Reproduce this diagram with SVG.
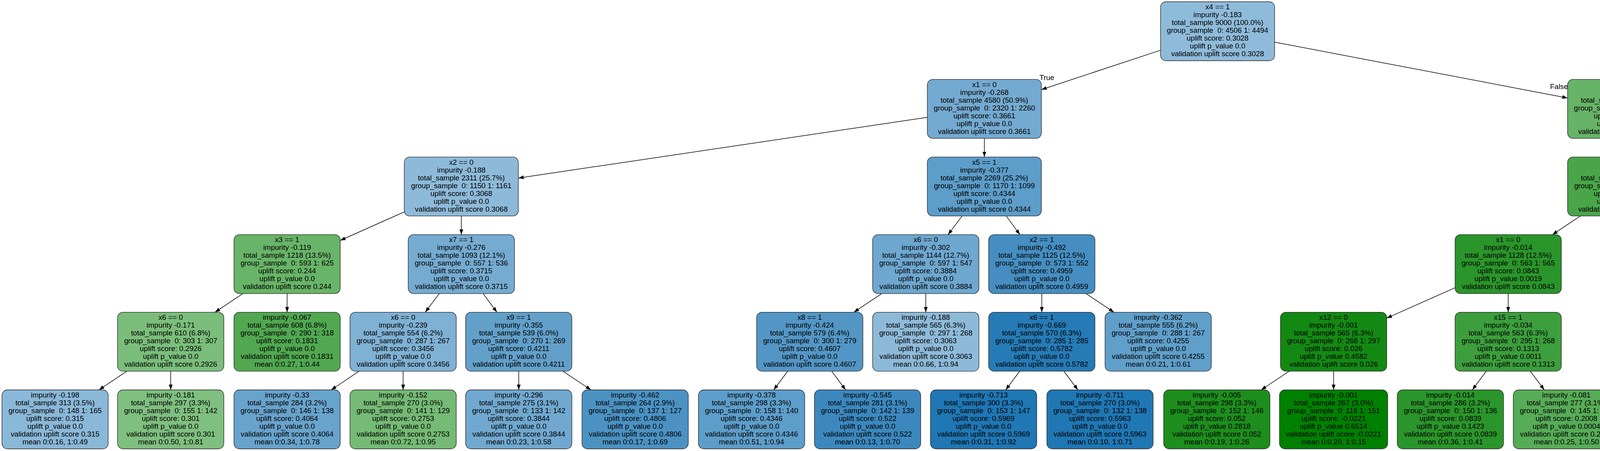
<svg xmlns="http://www.w3.org/2000/svg" width="6531" height="1155" viewBox="0 0 6531 1155">
<defs>
<marker id="ah" markerUnits="userSpaceOnUse" markerWidth="15" markerHeight="11" refX="13.5" refY="4.8" orient="auto"><path d="M0,0 L13.5,4.8 L0,9.6 z" fill="#000"/></marker>
</defs>
<style>
.n rect{stroke:#222;stroke-width:1.33}
.n text,.e text{font-family:"Liberation Sans",Arial,Helvetica,sans-serif;font-size:18.75px;text-anchor:middle;fill:#000}
.e line{stroke:#000;stroke-width:1.5;marker-end:url(#ah)}
</style>
<rect width="6531" height="1155" fill="#fff"/>
<g id="edges" class="e">
<line x1="2971" y1="128.6" x2="2666" y2="229.5"/>
<line x1="3263" y1="107.9" x2="4013" y2="250.9"/>
<text x="2680" y="205">True</text>
<text x="3991" y="228">False</text>
<line x1="2374" y1="300.5" x2="1327" y2="455.9"/>
<line x1="2520" y1="354.3" x2="2520" y2="402.1"/>
<line x1="4159" y1="354.3" x2="4159" y2="402.1"/>
<line x1="4305" y1="303.2" x2="5202" y2="453.2"/>
<line x1="1035" y1="542.6" x2="871" y2="615.8"/>
<line x1="1181" y1="553.1" x2="1181" y2="600.9"/>
<line x1="2463" y1="553.1" x2="2427" y2="600.9"/>
<line x1="2576" y1="553.1" x2="2611" y2="600.9"/>
<line x1="4045.8" y1="553.1" x2="3974.2" y2="600.9"/>
<line x1="4215.6" y1="553.1" x2="4251.4" y2="600.9"/>
<line x1="5348" y1="553.1" x2="5348" y2="600.9"/>
<line x1="5494" y1="516.7" x2="5955" y2="640"/>
<line x1="621.8" y1="751.9" x2="550.2" y2="799.7"/>
<line x1="735" y1="751.9" x2="735" y2="799.7"/>
<line x1="1124.4" y1="751.9" x2="1088.6" y2="799.7"/>
<line x1="1236.8" y1="751.9" x2="1272.2" y2="799.7"/>
<line x1="2257.2" y1="751.9" x2="2185.8" y2="799.7"/>
<line x1="2370" y1="751.9" x2="2370" y2="799.7"/>
<line x1="2667" y1="751.9" x2="2667" y2="799.7"/>
<line x1="2780.2" y1="751.9" x2="2851.8" y2="799.7"/>
<line x1="3725" y1="736.9" x2="3550" y2="814.7"/>
<line x1="3861" y1="751.9" x2="3861" y2="799.7"/>
<line x1="4308" y1="751.9" x2="4308" y2="799.7"/>
<line x1="4420.8" y1="751.9" x2="4492.2" y2="799.7"/>
<line x1="5291.8" y1="751.9" x2="5256.2" y2="799.7"/>
<line x1="5404.6" y1="751.9" x2="5440.4" y2="799.7"/>
<line x1="6091" y1="751.9" x2="6091" y2="799.7"/>
<line x1="6204.2" y1="751.9" x2="6275.8" y2="799.7"/>
<line x1="324.6" y1="950.7" x2="253.4" y2="998.5"/>
<line x1="437" y1="950.7" x2="437" y2="998.5"/>
<line x1="919.2" y1="950.7" x2="847.8" y2="998.5"/>
<line x1="1032" y1="950.7" x2="1032" y2="998.5"/>
<line x1="1328" y1="950.7" x2="1328" y2="998.5"/>
<line x1="1441.2" y1="950.7" x2="1512.8" y2="998.5"/>
<line x1="2016.4" y1="950.7" x2="1980.6" y2="998.5"/>
<line x1="2129.2" y1="950.7" x2="2164.8" y2="998.5"/>
<line x1="2610.4" y1="950.7" x2="2574.6" y2="998.5"/>
<line x1="2723.6" y1="950.7" x2="2759.4" y2="998.5"/>
<line x1="3300.4" y1="950.7" x2="3228.6" y2="998.5"/>
<line x1="3414" y1="950.7" x2="3414" y2="998.5"/>
<line x1="3804.8" y1="950.7" x2="3769.2" y2="998.5"/>
<line x1="3917.6" y1="950.7" x2="3953.4" y2="998.5"/>
<line x1="4308" y1="950.7" x2="4308" y2="998.5"/>
<line x1="4420.8" y1="950.7" x2="4492.2" y2="998.5"/>
<line x1="5087.2" y1="950.7" x2="5015.8" y2="998.5"/>
<line x1="5200" y1="950.7" x2="5200" y2="998.5"/>
<line x1="5497" y1="950.7" x2="5497" y2="998.5"/>
<line x1="5610.2" y1="950.7" x2="5681.8" y2="998.5"/>
<line x1="6091" y1="950.7" x2="6091" y2="998.5"/>
<line x1="6204.2" y1="950.7" x2="6275.8" y2="998.5"/>
</g>
<g id="n0" class="n" transform="translate(3117,4.5)"><rect x="-146" width="292" height="151" rx="14" fill="#8fbbda"/><text><tspan x="0" y="19.5">x4 == 1</tspan><tspan x="0" y="39.5">impurity -0.183</tspan><tspan x="0" y="59.5">total_sample 9000 (100.0%)</tspan><tspan x="0" y="79.5">group_sample&#160; 0: 4506 1: 4494</tspan><tspan x="0" y="99.5">uplift score: 0.3028</tspan><tspan x="0" y="119.5">uplift p_value 0.0</tspan><tspan x="0" y="139.5">validation uplift score 0.3028</tspan></text></g>
<g id="n1" class="n" transform="translate(2520,203.3)"><rect x="-146" width="292" height="151" rx="14" fill="#74aad1"/><text><tspan x="0" y="19.5">x1 == 0</tspan><tspan x="0" y="39.5">impurity -0.268</tspan><tspan x="0" y="59.5">total_sample 4580 (50.9%)</tspan><tspan x="0" y="79.5">group_sample&#160; 0: 2320 1: 2260</tspan><tspan x="0" y="99.5">uplift score: 0.3661</tspan><tspan x="0" y="119.5">uplift p_value 0.0</tspan><tspan x="0" y="139.5">validation uplift score 0.3661</tspan></text></g>
<g id="n2" class="n" transform="translate(4159,203.3)"><rect x="-146" width="292" height="151" rx="14" fill="#67b367"/><text><tspan x="0" y="19.5">x3 == 0</tspan><tspan x="0" y="39.5">impurity -0.115</tspan><tspan x="0" y="59.5">total_sample 4420 (49.1%)</tspan><tspan x="0" y="79.5">group_sample&#160; 0: 2186 1: 2234</tspan><tspan x="0" y="99.5">uplift score: 0.2399</tspan><tspan x="0" y="119.5">uplift p_value 0.0</tspan><tspan x="0" y="139.5">validation uplift score 0.2399</tspan></text></g>
<g id="n3" class="n" transform="translate(1181,402.1)"><rect x="-146" width="292" height="151" rx="14" fill="#8ebad9"/><text><tspan x="0" y="19.5">x2 == 0</tspan><tspan x="0" y="39.5">impurity -0.188</tspan><tspan x="0" y="59.5">total_sample 2311 (25.7%)</tspan><tspan x="0" y="79.5">group_sample&#160; 0: 1150 1: 1161</tspan><tspan x="0" y="99.5">uplift score: 0.3068</tspan><tspan x="0" y="119.5">uplift p_value 0.0</tspan><tspan x="0" y="139.5">validation uplift score 0.3068</tspan></text></g>
<g id="n4" class="n" transform="translate(2520,402.1)"><rect x="-146" width="292" height="151" rx="14" fill="#5d9dc9"/><text><tspan x="0" y="19.5">x5 == 1</tspan><tspan x="0" y="39.5">impurity -0.377</tspan><tspan x="0" y="59.5">total_sample 2269 (25.2%)</tspan><tspan x="0" y="79.5">group_sample&#160; 0: 1170 1: 1099</tspan><tspan x="0" y="99.5">uplift score: 0.4344</tspan><tspan x="0" y="119.5">uplift p_value 0.0</tspan><tspan x="0" y="139.5">validation uplift score 0.4344</tspan></text></g>
<g id="n5" class="n" transform="translate(4159,402.1)"><rect x="-146" width="292" height="151" rx="14" fill="#4aa54a"/><text><tspan x="0" y="19.5">x2 == 0</tspan><tspan x="0" y="39.5">impurity -0.055</tspan><tspan x="0" y="59.5">total_sample 2236 (24.8%)</tspan><tspan x="0" y="79.5">group_sample&#160; 0: 1088 1: 1148</tspan><tspan x="0" y="99.5">uplift score: 0.1657</tspan><tspan x="0" y="119.5">uplift p_value 0.0</tspan><tspan x="0" y="139.5">validation uplift score 0.1657</tspan></text></g>
<g id="n6" class="n" transform="translate(5348,402.1)"><rect x="-146" width="292" height="151" rx="14" fill="#8bb8d8"/><text><tspan x="0" y="19.5">x8 == 1</tspan><tspan x="0" y="39.5">impurity -0.198</tspan><tspan x="0" y="59.5">total_sample 2184 (24.3%)</tspan><tspan x="0" y="79.5">group_sample&#160; 0: 1098 1: 1086</tspan><tspan x="0" y="99.5">uplift score: 0.3144</tspan><tspan x="0" y="119.5">uplift p_value 0.0</tspan><tspan x="0" y="139.5">validation uplift score 0.3144</tspan></text></g>
<g id="n7" class="n" transform="translate(735,600.9)"><rect x="-136" width="272" height="151" rx="14" fill="#68b468"/><text><tspan x="0" y="19.5">x3 == 1</tspan><tspan x="0" y="39.5">impurity -0.119</tspan><tspan x="0" y="59.5">total_sample 1218 (13.5%)</tspan><tspan x="0" y="79.5">group_sample&#160; 0: 593 1: 625</tspan><tspan x="0" y="99.5">uplift score: 0.244</tspan><tspan x="0" y="119.5">uplift p_value 0.0</tspan><tspan x="0" y="139.5">validation uplift score 0.244</tspan></text></g>
<g id="n8" class="n" transform="translate(1181,600.9)"><rect x="-136" width="272" height="151" rx="14" fill="#75abd1"/><text><tspan x="0" y="19.5">x7 == 1</tspan><tspan x="0" y="39.5">impurity -0.276</tspan><tspan x="0" y="59.5">total_sample 1093 (12.1%)</tspan><tspan x="0" y="79.5">group_sample&#160; 0: 557 1: 536</tspan><tspan x="0" y="99.5">uplift score: 0.3715</tspan><tspan x="0" y="119.5">uplift p_value 0.0</tspan><tspan x="0" y="139.5">validation uplift score 0.3715</tspan></text></g>
<g id="n9" class="n" transform="translate(2370,600.9)"><rect x="-136" width="272" height="151" rx="14" fill="#6ea7cf"/><text><tspan x="0" y="19.5">x6 == 0</tspan><tspan x="0" y="39.5">impurity -0.302</tspan><tspan x="0" y="59.5">total_sample 1144 (12.7%)</tspan><tspan x="0" y="79.5">group_sample&#160; 0: 597 1: 547</tspan><tspan x="0" y="99.5">uplift score: 0.3884</tspan><tspan x="0" y="119.5">uplift p_value 0.0</tspan><tspan x="0" y="139.5">validation uplift score 0.3884</tspan></text></g>
<g id="n10" class="n" transform="translate(2667,600.9)"><rect x="-136" width="272" height="151" rx="14" fill="#468ec1"/><text><tspan x="0" y="19.5">x2 == 1</tspan><tspan x="0" y="39.5">impurity -0.492</tspan><tspan x="0" y="59.5">total_sample 1125 (12.5%)</tspan><tspan x="0" y="79.5">group_sample&#160; 0: 573 1: 552</tspan><tspan x="0" y="99.5">uplift score: 0.4959</tspan><tspan x="0" y="119.5">uplift p_value 0.0</tspan><tspan x="0" y="139.5">validation uplift score 0.4959</tspan></text></g>
<g id="n11" class="n" transform="translate(3861,600.9)"><rect x="-136" width="272" height="151" rx="14" fill="#2a952a"/><text><tspan x="0" y="19.5">x1 == 0</tspan><tspan x="0" y="39.5">impurity -0.014</tspan><tspan x="0" y="59.5">total_sample 1128 (12.5%)</tspan><tspan x="0" y="79.5">group_sample&#160; 0: 563 1: 565</tspan><tspan x="0" y="99.5">uplift score: 0.0843</tspan><tspan x="0" y="119.5">uplift p_value 0.0019</tspan><tspan x="0" y="139.5">validation uplift score 0.0843</tspan></text></g>
<g id="n12" class="n" transform="translate(4308,600.9)"><rect x="-136" width="272" height="151" rx="14" fill="#64b264"/><text><tspan x="0" y="19.5">x17 == 1</tspan><tspan x="0" y="39.5">impurity -0.109</tspan><tspan x="0" y="59.5">total_sample 1108 (12.3%)</tspan><tspan x="0" y="79.5">group_sample&#160; 0: 525 1: 583</tspan><tspan x="0" y="99.5">uplift score: 0.233</tspan><tspan x="0" y="119.5">uplift p_value 0.0</tspan><tspan x="0" y="139.5">validation uplift score 0.233</tspan></text></g>
<g id="n13" class="n" transform="translate(5348,600.9)"><rect x="-136" width="272" height="151" rx="14" fill="#8bb9d8"/><text><tspan x="0" y="19.5">x7 == 1</tspan><tspan x="0" y="39.5">impurity -0.195</tspan><tspan x="0" y="59.5">total_sample 1096 (12.2%)</tspan><tspan x="0" y="79.5">group_sample&#160; 0: 558 1: 538</tspan><tspan x="0" y="99.5">uplift score: 0.3123</tspan><tspan x="0" y="119.5">uplift p_value 0.0</tspan><tspan x="0" y="139.5">validation uplift score 0.3123</tspan></text></g>
<g id="n14" class="n" transform="translate(6091,600.9)"><rect x="-136" width="272" height="151" rx="14" fill="#83b4d6"/><text><tspan x="0" y="19.5">x2 == 1</tspan><tspan x="0" y="39.5">impurity -0.222</tspan><tspan x="0" y="59.5">total_sample 1088 (12.1%)</tspan><tspan x="0" y="79.5">group_sample&#160; 0: 540 1: 548</tspan><tspan x="0" y="99.5">uplift score: 0.333</tspan><tspan x="0" y="119.5">uplift p_value 0.0</tspan><tspan x="0" y="139.5">validation uplift score 0.333</tspan></text></g>
<g id="n15" class="n" transform="translate(437,799.7)"><rect x="-136" width="272" height="151" rx="14" fill="#7bbe7b"/><text><tspan x="0" y="19.5">x6 == 0</tspan><tspan x="0" y="39.5">impurity -0.171</tspan><tspan x="0" y="59.5">total_sample 610 (6.8%)</tspan><tspan x="0" y="79.5">group_sample&#160; 0: 303 1: 307</tspan><tspan x="0" y="99.5">uplift score: 0.2926</tspan><tspan x="0" y="119.5">uplift p_value 0.0</tspan><tspan x="0" y="139.5">validation uplift score 0.2926</tspan></text></g>
<g id="n16" class="n" transform="translate(735,799.7)"><rect x="-136" width="272" height="151" rx="14" fill="#51a851"/><text><tspan x="0" y="19.5">impurity -0.067</tspan><tspan x="0" y="39.5">total_sample 608 (6.8%)</tspan><tspan x="0" y="59.5">group_sample&#160; 0: 290 1: 318</tspan><tspan x="0" y="79.5">uplift score: 0.1831</tspan><tspan x="0" y="99.5">uplift p_value 0.0</tspan><tspan x="0" y="119.5">validation uplift score 0.1831</tspan><tspan x="0" y="139.5">mean 0:0.27, 1:0.44</tspan></text></g>
<g id="n17" class="n" transform="translate(1032,799.7)"><rect x="-136" width="272" height="151" rx="14" fill="#7fb1d4"/><text><tspan x="0" y="19.5">x6 == 0</tspan><tspan x="0" y="39.5">impurity -0.239</tspan><tspan x="0" y="59.5">total_sample 554 (6.2%)</tspan><tspan x="0" y="79.5">group_sample&#160; 0: 287 1: 267</tspan><tspan x="0" y="99.5">uplift score: 0.3456</tspan><tspan x="0" y="119.5">uplift p_value 0.0</tspan><tspan x="0" y="139.5">validation uplift score 0.3456</tspan></text></g>
<g id="n18" class="n" transform="translate(1328,799.7)"><rect x="-136" width="272" height="151" rx="14" fill="#62a0ca"/><text><tspan x="0" y="19.5">x9 == 1</tspan><tspan x="0" y="39.5">impurity -0.355</tspan><tspan x="0" y="59.5">total_sample 539 (6.0%)</tspan><tspan x="0" y="79.5">group_sample&#160; 0: 270 1: 269</tspan><tspan x="0" y="99.5">uplift score: 0.4211</tspan><tspan x="0" y="119.5">uplift p_value 0.0</tspan><tspan x="0" y="139.5">validation uplift score 0.4211</tspan></text></g>
<g id="n19" class="n" transform="translate(2073,799.7)"><rect x="-136" width="272" height="151" rx="14" fill="#5396c5"/><text><tspan x="0" y="19.5">x8 == 1</tspan><tspan x="0" y="39.5">impurity -0.424</tspan><tspan x="0" y="59.5">total_sample 579 (6.4%)</tspan><tspan x="0" y="79.5">group_sample&#160; 0: 300 1: 279</tspan><tspan x="0" y="99.5">uplift score: 0.4607</tspan><tspan x="0" y="119.5">uplift p_value 0.0</tspan><tspan x="0" y="139.5">validation uplift score 0.4607</tspan></text></g>
<g id="n20" class="n" transform="translate(2370,799.7)"><rect x="-136" width="272" height="151" rx="14" fill="#8ebad9"/><text><tspan x="0" y="19.5">impurity -0.188</tspan><tspan x="0" y="39.5">total_sample 565 (6.3%)</tspan><tspan x="0" y="59.5">group_sample&#160; 0: 297 1: 268</tspan><tspan x="0" y="79.5">uplift score: 0.3063</tspan><tspan x="0" y="99.5">uplift p_value 0.0</tspan><tspan x="0" y="119.5">validation uplift score 0.3063</tspan><tspan x="0" y="139.5">mean 0:0.66, 1:0.94</tspan></text></g>
<g id="n21" class="n" transform="translate(2667,799.7)"><rect x="-136" width="272" height="151" rx="14" fill="#267bb6"/><text><tspan x="0" y="19.5">x6 == 1</tspan><tspan x="0" y="39.5">impurity -0.669</tspan><tspan x="0" y="59.5">total_sample 570 (6.3%)</tspan><tspan x="0" y="79.5">group_sample&#160; 0: 285 1: 285</tspan><tspan x="0" y="99.5">uplift score: 0.5782</tspan><tspan x="0" y="119.5">uplift p_value 0.0</tspan><tspan x="0" y="139.5">validation uplift score 0.5782</tspan></text></g>
<g id="n22" class="n" transform="translate(2965,799.7)"><rect x="-136" width="272" height="151" rx="14" fill="#609fca"/><text><tspan x="0" y="19.5">impurity -0.362</tspan><tspan x="0" y="39.5">total_sample 555 (6.2%)</tspan><tspan x="0" y="59.5">group_sample&#160; 0: 288 1: 267</tspan><tspan x="0" y="79.5">uplift score: 0.4255</tspan><tspan x="0" y="99.5">uplift p_value 0.0</tspan><tspan x="0" y="119.5">validation uplift score 0.4255</tspan><tspan x="0" y="139.5">mean 0:0.21, 1:0.61</tspan></text></g>
<g id="n23" class="n" transform="translate(3414,799.7)"><rect x="-136" width="272" height="151" rx="14" fill="#138913"/><text><tspan x="0" y="19.5">x12 == 0</tspan><tspan x="0" y="39.5">impurity -0.001</tspan><tspan x="0" y="59.5">total_sample 565 (6.3%)</tspan><tspan x="0" y="79.5">group_sample&#160; 0: 268 1: 297</tspan><tspan x="0" y="99.5">uplift score: 0.026</tspan><tspan x="0" y="119.5">uplift p_value 0.4582</tspan><tspan x="0" y="139.5">validation uplift score 0.026</tspan></text></g>
<g id="n24" class="n" transform="translate(3861,799.7)"><rect x="-136" width="272" height="151" rx="14" fill="#3c9e3c"/><text><tspan x="0" y="19.5">x15 == 1</tspan><tspan x="0" y="39.5">impurity -0.034</tspan><tspan x="0" y="59.5">total_sample 563 (6.3%)</tspan><tspan x="0" y="79.5">group_sample&#160; 0: 295 1: 268</tspan><tspan x="0" y="99.5">uplift score: 0.1313</tspan><tspan x="0" y="119.5">uplift p_value 0.0011</tspan><tspan x="0" y="139.5">validation uplift score 0.1313</tspan></text></g>
<g id="n25" class="n" transform="translate(4308,799.7)"><rect x="-136" width="272" height="151" rx="14" fill="#79bc79"/><text><tspan x="0" y="19.5">x1 == 1</tspan><tspan x="0" y="39.5">impurity -0.165</tspan><tspan x="0" y="59.5">total_sample 554 (6.2%)</tspan><tspan x="0" y="79.5">group_sample&#160; 0: 270 1: 284</tspan><tspan x="0" y="99.5">uplift score: 0.2875</tspan><tspan x="0" y="119.5">uplift p_value 0.0</tspan><tspan x="0" y="139.5">validation uplift score 0.2875</tspan></text></g>
<g id="n26" class="n" transform="translate(4605,799.7)"><rect x="-136" width="272" height="151" rx="14" fill="#56ab56"/><text><tspan x="0" y="19.5">impurity -0.077</tspan><tspan x="0" y="39.5">total_sample 554 (6.2%)</tspan><tspan x="0" y="59.5">group_sample&#160; 0: 255 1: 299</tspan><tspan x="0" y="79.5">uplift score: 0.1967</tspan><tspan x="0" y="99.5">uplift p_value 0.0</tspan><tspan x="0" y="119.5">validation uplift score 0.1967</tspan><tspan x="0" y="139.5">mean 0:0.29, 1:0.48</tspan></text></g>
<g id="n27" class="n" transform="translate(5200,799.7)"><rect x="-136" width="272" height="151" rx="14" fill="#6fb76f"/><text><tspan x="0" y="19.5">x5 == 1</tspan><tspan x="0" y="39.5">impurity -0.136</tspan><tspan x="0" y="59.5">total_sample 569 (6.3%)</tspan><tspan x="0" y="79.5">group_sample&#160; 0: 293 1: 276</tspan><tspan x="0" y="99.5">uplift score: 0.2606</tspan><tspan x="0" y="119.5">uplift p_value 0.0</tspan><tspan x="0" y="139.5">validation uplift score 0.2606</tspan></text></g>
<g id="n28" class="n" transform="translate(5497,799.7)"><rect x="-136" width="272" height="151" rx="14" fill="#75abd1"/><text><tspan x="0" y="19.5">x1 == 0</tspan><tspan x="0" y="39.5">impurity -0.275</tspan><tspan x="0" y="59.5">total_sample 527 (5.9%)</tspan><tspan x="0" y="79.5">group_sample&#160; 0: 265 1: 262</tspan><tspan x="0" y="99.5">uplift score: 0.3707</tspan><tspan x="0" y="119.5">uplift p_value 0.0</tspan><tspan x="0" y="139.5">validation uplift score 0.3707</tspan></text></g>
<g id="n29" class="n" transform="translate(6091,799.7)"><rect x="-136" width="272" height="151" rx="14" fill="#619fca"/><text><tspan x="0" y="19.5">x7 == 1</tspan><tspan x="0" y="39.5">impurity -0.36</tspan><tspan x="0" y="59.5">total_sample 554 (6.2%)</tspan><tspan x="0" y="79.5">group_sample&#160; 0: 264 1: 290</tspan><tspan x="0" y="99.5">uplift score: 0.4245</tspan><tspan x="0" y="119.5">uplift p_value 0.0</tspan><tspan x="0" y="139.5">validation uplift score 0.4245</tspan></text></g>
<g id="n30" class="n" transform="translate(6389,799.7)"><rect x="-136" width="272" height="151" rx="14" fill="#67b367"/><text><tspan x="0" y="19.5">impurity -0.115</tspan><tspan x="0" y="39.5">total_sample 534 (5.9%)</tspan><tspan x="0" y="59.5">group_sample&#160; 0: 276 1: 258</tspan><tspan x="0" y="79.5">uplift score: 0.2397</tspan><tspan x="0" y="99.5">uplift p_value 0.0</tspan><tspan x="0" y="119.5">validation uplift score 0.2397</tspan><tspan x="0" y="139.5">mean 0:0.19, 1:0.40</tspan></text></g>
<g id="n31" class="n" transform="translate(141,998.5)"><rect x="-136" width="272" height="151" rx="14" fill="#8ab8d8"/><text><tspan x="0" y="19.5">impurity -0.198</tspan><tspan x="0" y="39.5">total_sample 313 (3.5%)</tspan><tspan x="0" y="59.5">group_sample&#160; 0: 148 1: 165</tspan><tspan x="0" y="79.5">uplift score: 0.315</tspan><tspan x="0" y="99.5">uplift p_value 0.0</tspan><tspan x="0" y="119.5">validation uplift score 0.315</tspan><tspan x="0" y="139.5">mean 0:0.16, 1:0.49</tspan></text></g>
<g id="n32" class="n" transform="translate(437,998.5)"><rect x="-136" width="272" height="151" rx="14" fill="#7fbf7f"/><text><tspan x="0" y="19.5">impurity -0.181</tspan><tspan x="0" y="39.5">total_sample 297 (3.3%)</tspan><tspan x="0" y="59.5">group_sample&#160; 0: 155 1: 142</tspan><tspan x="0" y="79.5">uplift score: 0.301</tspan><tspan x="0" y="99.5">uplift p_value 0.0</tspan><tspan x="0" y="119.5">validation uplift score 0.301</tspan><tspan x="0" y="139.5">mean 0:0.50, 1:0.81</tspan></text></g>
<g id="n33" class="n" transform="translate(735,998.5)"><rect x="-136" width="272" height="151" rx="14" fill="#68a3cc"/><text><tspan x="0" y="19.5">impurity -0.33</tspan><tspan x="0" y="39.5">total_sample 284 (3.2%)</tspan><tspan x="0" y="59.5">group_sample&#160; 0: 146 1: 138</tspan><tspan x="0" y="79.5">uplift score: 0.4064</tspan><tspan x="0" y="99.5">uplift p_value 0.0</tspan><tspan x="0" y="119.5">validation uplift score 0.4064</tspan><tspan x="0" y="139.5">mean 0:0.34, 1:0.78</tspan></text></g>
<g id="n34" class="n" transform="translate(1032,998.5)"><rect x="-136" width="272" height="151" rx="14" fill="#75ba75"/><text><tspan x="0" y="19.5">impurity -0.152</tspan><tspan x="0" y="39.5">total_sample 270 (3.0%)</tspan><tspan x="0" y="59.5">group_sample&#160; 0: 141 1: 129</tspan><tspan x="0" y="79.5">uplift score: 0.2753</tspan><tspan x="0" y="99.5">uplift p_value 0.0</tspan><tspan x="0" y="119.5">validation uplift score 0.2753</tspan><tspan x="0" y="139.5">mean 0:0.72, 1:0.95</tspan></text></g>
<g id="n35" class="n" transform="translate(1328,998.5)"><rect x="-136" width="272" height="151" rx="14" fill="#70a8cf"/><text><tspan x="0" y="19.5">impurity -0.296</tspan><tspan x="0" y="39.5">total_sample 275 (3.1%)</tspan><tspan x="0" y="59.5">group_sample&#160; 0: 133 1: 142</tspan><tspan x="0" y="79.5">uplift score: 0.3844</tspan><tspan x="0" y="99.5">uplift p_value 0.0</tspan><tspan x="0" y="119.5">validation uplift score 0.3844</tspan><tspan x="0" y="139.5">mean 0:0.23, 1:0.58</tspan></text></g>
<g id="n36" class="n" transform="translate(1626,998.5)"><rect x="-136" width="272" height="151" rx="14" fill="#4b92c3"/><text><tspan x="0" y="19.5">impurity -0.462</tspan><tspan x="0" y="39.5">total_sample 264 (2.9%)</tspan><tspan x="0" y="59.5">group_sample&#160; 0: 137 1: 127</tspan><tspan x="0" y="79.5">uplift score: 0.4806</tspan><tspan x="0" y="99.5">uplift p_value 0.0</tspan><tspan x="0" y="119.5">validation uplift score 0.4806</tspan><tspan x="0" y="139.5">mean 0:0.17, 1:0.69</tspan></text></g>
<g id="n37" class="n" transform="translate(1924,998.5)"><rect x="-136" width="272" height="151" rx="14" fill="#5d9dc9"/><text><tspan x="0" y="19.5">impurity -0.378</tspan><tspan x="0" y="39.5">total_sample 298 (3.3%)</tspan><tspan x="0" y="59.5">group_sample&#160; 0: 158 1: 140</tspan><tspan x="0" y="79.5">uplift score: 0.4346</tspan><tspan x="0" y="99.5">uplift p_value 0.0</tspan><tspan x="0" y="119.5">validation uplift score 0.4346</tspan><tspan x="0" y="139.5">mean 0:0.51, 1:0.94</tspan></text></g>
<g id="n38" class="n" transform="translate(2221,998.5)"><rect x="-136" width="272" height="151" rx="14" fill="#3c88be"/><text><tspan x="0" y="19.5">impurity -0.545</tspan><tspan x="0" y="39.5">total_sample 281 (3.1%)</tspan><tspan x="0" y="59.5">group_sample&#160; 0: 142 1: 139</tspan><tspan x="0" y="79.5">uplift score: 0.522</tspan><tspan x="0" y="99.5">uplift p_value 0.0</tspan><tspan x="0" y="119.5">validation uplift score 0.522</tspan><tspan x="0" y="139.5">mean 0:0.13, 1:0.70</tspan></text></g>
<g id="n39" class="n" transform="translate(2518,998.5)"><rect x="-136" width="272" height="151" rx="14" fill="#1f77b4"/><text><tspan x="0" y="19.5">impurity -0.713</tspan><tspan x="0" y="39.5">total_sample 300 (3.3%)</tspan><tspan x="0" y="59.5">group_sample&#160; 0: 153 1: 147</tspan><tspan x="0" y="79.5">uplift score: 0.5969</tspan><tspan x="0" y="99.5">uplift p_value 0.0</tspan><tspan x="0" y="119.5">validation uplift score 0.5969</tspan><tspan x="0" y="139.5">mean 0:0.31, 1:0.92</tspan></text></g>
<g id="n40" class="n" transform="translate(2816,998.5)"><rect x="-136" width="272" height="151" rx="14" fill="#1f77b4"/><text><tspan x="0" y="19.5">impurity -0.711</tspan><tspan x="0" y="39.5">total_sample 270 (3.0%)</tspan><tspan x="0" y="59.5">group_sample&#160; 0: 132 1: 138</tspan><tspan x="0" y="79.5">uplift score: 0.5963</tspan><tspan x="0" y="99.5">uplift p_value 0.0</tspan><tspan x="0" y="119.5">validation uplift score 0.5963</tspan><tspan x="0" y="139.5">mean 0:0.10, 1:0.71</tspan></text></g>
<g id="n41" class="n" transform="translate(3115,998.5)"><rect x="-136" width="272" height="151" rx="14" fill="#1d8e1d"/><text><tspan x="0" y="19.5">impurity -0.005</tspan><tspan x="0" y="39.5">total_sample 298 (3.3%)</tspan><tspan x="0" y="59.5">group_sample&#160; 0: 152 1: 146</tspan><tspan x="0" y="79.5">uplift score: 0.052</tspan><tspan x="0" y="99.5">uplift p_value 0.2818</tspan><tspan x="0" y="119.5">validation uplift score 0.052</tspan><tspan x="0" y="139.5">mean 0:0.19, 1:0.26</tspan></text></g>
<g id="n42" class="n" transform="translate(3414,998.5)"><rect x="-138.5" width="277" height="151" rx="14" fill="#008000"/><text><tspan x="0" y="19.5">impurity -0.001</tspan><tspan x="0" y="39.5">total_sample 267 (3.0%)</tspan><tspan x="0" y="59.5">group_sample&#160; 0: 116 1: 151</tspan><tspan x="0" y="79.5">uplift score: -0.0221</tspan><tspan x="0" y="99.5">uplift p_value 0.6514</tspan><tspan x="0" y="119.5">validation uplift score -0.0221</tspan><tspan x="0" y="139.5">mean 0:0.20, 1:0.15</tspan></text></g>
<g id="n43" class="n" transform="translate(3713,998.5)"><rect x="-136" width="272" height="151" rx="14" fill="#2a952a"/><text><tspan x="0" y="19.5">impurity -0.014</tspan><tspan x="0" y="39.5">total_sample 286 (3.2%)</tspan><tspan x="0" y="59.5">group_sample&#160; 0: 150 1: 136</tspan><tspan x="0" y="79.5">uplift score: 0.0839</tspan><tspan x="0" y="99.5">uplift p_value 0.1423</tspan><tspan x="0" y="119.5">validation uplift score 0.0839</tspan><tspan x="0" y="139.5">mean 0:0.36, 1:0.41</tspan></text></g>
<g id="n44" class="n" transform="translate(4010,998.5)"><rect x="-136" width="272" height="151" rx="14" fill="#57ac57"/><text><tspan x="0" y="19.5">impurity -0.081</tspan><tspan x="0" y="39.5">total_sample 277 (3.1%)</tspan><tspan x="0" y="59.5">group_sample&#160; 0: 145 1: 132</tspan><tspan x="0" y="79.5">uplift score: 0.2008</tspan><tspan x="0" y="99.5">uplift p_value 0.0004</tspan><tspan x="0" y="119.5">validation uplift score 0.2008</tspan><tspan x="0" y="139.5">mean 0:0.25, 1:0.50</tspan></text></g>
<g id="n45" class="n" transform="translate(4308,998.5)"><rect x="-136" width="272" height="151" rx="14" fill="#7aaed2"/><text><tspan x="0" y="19.5">impurity -0.258</tspan><tspan x="0" y="39.5">total_sample 283 (3.1%)</tspan><tspan x="0" y="59.5">group_sample&#160; 0: 131 1: 152</tspan><tspan x="0" y="79.5">uplift score: 0.3591</tspan><tspan x="0" y="99.5">uplift p_value 0.0</tspan><tspan x="0" y="119.5">validation uplift score 0.3591</tspan><tspan x="0" y="139.5">mean 0:0.31, 1:0.72</tspan></text></g>
<g id="n46" class="n" transform="translate(4605,998.5)"><rect x="-136" width="272" height="151" rx="14" fill="#63b263"/><text><tspan x="0" y="19.5">impurity -0.107</tspan><tspan x="0" y="39.5">total_sample 271 (3.0%)</tspan><tspan x="0" y="59.5">group_sample&#160; 0: 139 1: 132</tspan><tspan x="0" y="79.5">uplift score: 0.2309</tspan><tspan x="0" y="99.5">uplift p_value 0.0001</tspan><tspan x="0" y="119.5">validation uplift score 0.2309</tspan><tspan x="0" y="139.5">mean 0:0.24, 1:0.43</tspan></text></g>
<g id="n47" class="n" transform="translate(4903,998.5)"><rect x="-136" width="272" height="151" rx="14" fill="#53aa53"/><text><tspan x="0" y="19.5">impurity -0.072</tspan><tspan x="0" y="39.5">total_sample 285 (3.2%)</tspan><tspan x="0" y="59.5">group_sample&#160; 0: 155 1: 130</tspan><tspan x="0" y="79.5">uplift score: 0.1903</tspan><tspan x="0" y="99.5">uplift p_value 0.0</tspan><tspan x="0" y="119.5">validation uplift score 0.1903</tspan><tspan x="0" y="139.5">mean 0:0.79, 1:0.95</tspan></text></g>
<g id="n48" class="n" transform="translate(5200,998.5)"><rect x="-136" width="272" height="151" rx="14" fill="#88b7d7"/><text><tspan x="0" y="19.5">impurity -0.207</tspan><tspan x="0" y="39.5">total_sample 284 (3.2%)</tspan><tspan x="0" y="59.5">group_sample&#160; 0: 138 1: 146</tspan><tspan x="0" y="79.5">uplift score: 0.3217</tspan><tspan x="0" y="99.5">uplift p_value 0.0</tspan><tspan x="0" y="119.5">validation uplift score 0.3217</tspan><tspan x="0" y="139.5">mean 0:0.43, 1:0.79</tspan></text></g>
<g id="n49" class="n" transform="translate(5497,998.5)"><rect x="-136" width="272" height="151" rx="14" fill="#86b6d7"/><text><tspan x="0" y="19.5">impurity -0.212</tspan><tspan x="0" y="39.5">total_sample 267 (3.0%)</tspan><tspan x="0" y="59.5">group_sample&#160; 0: 126 1: 141</tspan><tspan x="0" y="79.5">uplift score: 0.3258</tspan><tspan x="0" y="99.5">uplift p_value 0.0</tspan><tspan x="0" y="119.5">validation uplift score 0.3258</tspan><tspan x="0" y="139.5">mean 0:0.29, 1:0.58</tspan></text></g>
<g id="n50" class="n" transform="translate(5795,998.5)"><rect x="-136" width="272" height="151" rx="14" fill="#599ac7"/><text><tspan x="0" y="19.5">impurity -0.397</tspan><tspan x="0" y="39.5">total_sample 260 (2.9%)</tspan><tspan x="0" y="59.5">group_sample&#160; 0: 139 1: 121</tspan><tspan x="0" y="79.5">uplift score: 0.4455</tspan><tspan x="0" y="99.5">uplift p_value 0.0</tspan><tspan x="0" y="119.5">validation uplift score 0.4455</tspan><tspan x="0" y="139.5">mean 0:0.28, 1:0.79</tspan></text></g>
<g id="n51" class="n" transform="translate(6091,998.5)"><rect x="-136" width="272" height="151" rx="14" fill="#5195c5"/><text><tspan x="0" y="19.5">impurity -0.433</tspan><tspan x="0" y="39.5">total_sample 288 (3.2%)</tspan><tspan x="0" y="59.5">group_sample&#160; 0: 143 1: 145</tspan><tspan x="0" y="79.5">uplift score: 0.4654</tspan><tspan x="0" y="99.5">uplift p_value 0.0</tspan><tspan x="0" y="119.5">validation uplift score 0.4654</tspan><tspan x="0" y="139.5">mean 0:0.24, 1:0.74</tspan></text></g>
<g id="n52" class="n" transform="translate(6389,998.5)"><rect x="-136" width="272" height="151" rx="14" fill="#609fca"/><text><tspan x="0" y="19.5">impurity -0.362</tspan><tspan x="0" y="39.5">total_sample 266 (3.0%)</tspan><tspan x="0" y="59.5">group_sample&#160; 0: 121 1: 145</tspan><tspan x="0" y="79.5">uplift score: 0.4256</tspan><tspan x="0" y="99.5">uplift p_value 0.0</tspan><tspan x="0" y="119.5">validation uplift score 0.4256</tspan><tspan x="0" y="139.5">mean 0:0.09, 1:0.52</tspan></text></g>
</svg>
